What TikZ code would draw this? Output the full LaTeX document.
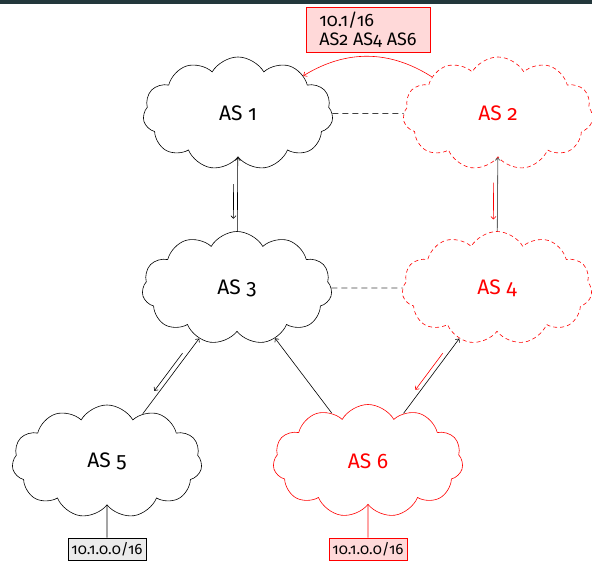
\documentclass[tikz,border=0pt]{standalone}
\usepackage{fontspec}
\setmainfont{Fira Sans}[Numbers=OldStyle]
\usetikzlibrary{shapes.symbols,calc,arrows.meta}
\definecolor{barcol}{HTML}{23373B}
\begin{document}
\begin{tikzpicture}[x=1pt,y=1pt,
  ascloud/.style={cloud, cloud puffs=11, cloud puff arc=120, cloud ignores aspect,
    minimum width=190pt, minimum height=113pt, inner sep=0pt,
    draw, line width=0.6pt, font=\fontsize{21}{24}\selectfont},
  asredcloud/.style={ascloud, draw=red, text=red},
  asdashcloud/.style={asredcloud, dash pattern=on 4pt off 3pt},
  linkline/.style={line width=0.6pt, -{To[length=3.2pt,width=5.5pt]}},
  peerline/.style={draw=black!75, line width=0.8pt, dash pattern=on 6pt off 4pt},
  pfxbox/.style={draw, fill=black!8, line width=0.6pt, minimum width=78pt,
    minimum height=22pt, inner sep=0pt, font=\fontsize{15}{17}\selectfont},
  routebox/.style={draw=red, fill=red!15, line width=0.6pt, align=left,
    minimum width=124pt, minimum height=45pt, inner sep=0pt,
    font=\fontsize{18}{19.5}\selectfont},
  ]
\useasboundingbox (0,0) rectangle (592,-561);
\fill[barcol] (0,0) rectangle (592,-4.5);

% autonomous systems
\node[ascloud]     (as1) at (238,-113.5) {AS 1};
\node[asdashcloud] (as2) at (498,-113.5) {AS 2};
\node[ascloud]     (as3) at (237,-288)   {AS 3};
\node[asdashcloud] (as4) at (497,-288)   {AS 4};
\node[ascloud]     (as5) at (107,-461.5) {AS 5};
\node[asredcloud]  (as6) at (368,-461)   {AS 6};

% originated prefixes
\node[pfxbox] (p5) at (107,-549) {10.1.0.0/16};
\node[pfxbox, draw=red, fill=red!15] (p6) at (368,-549) {10.1.0.0/16};
\draw[line width=0.6pt] (as5) -- (p5);
\draw[line width=0.6pt, red] (as6) -- (p6);

% announced route
\node[routebox] (rt) at (368,-29.5) {10.1/16\\AS2 AS4 AS6};
\draw[linkline, red] (as2.151) to[bend right=32] (as1.30);

% peering links
\draw[peerline] (as1) -- (as2);
\draw[peerline] (as3) -- (as4);

% customer-provider links
\draw[linkline] (as3) -- (as1) coordinate[pos=0.64] (t1) coordinate[pos=0.17] (h1);
\draw[linkline, draw=black!60, line width=0.8pt] (as4) -- (as2)
  coordinate[pos=0.66] (t2) coordinate[pos=0.16] (h2);
\draw[linkline] (as5) -- (as3) coordinate[pos=0.77] (t3) coordinate[pos=0.27] (h3);
\draw[linkline] (as6) -- (as3);
\draw[linkline] (as6) -- (as4) coordinate[pos=0.77] (t4) coordinate[pos=0.28] (h4);

% route propagation
\draw[linkline] ($(t1)!4pt!-90:(h1)$) -- ($(h1)!4pt!90:(t1)$);
\draw[linkline, red] ($(t2)!4pt!-90:(h2)$) -- ($(h2)!4pt!90:(t2)$);
\draw[linkline] ($(t3)!4.5pt!-90:(h3)$) -- ($(h3)!4.5pt!90:(t3)$);
\draw[linkline, red] ($(t4)!4.5pt!-90:(h4)$) -- ($(h4)!4.5pt!90:(t4)$);
\end{tikzpicture}
\end{document}
